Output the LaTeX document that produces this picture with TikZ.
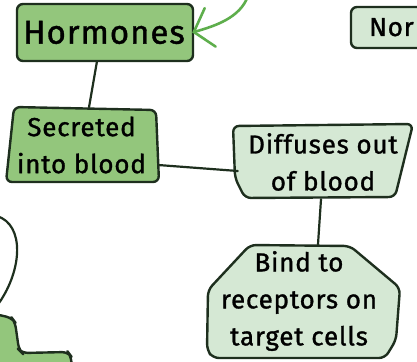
\documentclass[tikz,border=0pt]{standalone}
\usepackage{fontspec}
\setmainfont{Fira Sans}[LetterSpace=3, BoldFont=Fira Sans, BoldFeatures={FakeBold=1.2}]
\usetikzlibrary{arrows.meta}
\definecolor{midgreen}{HTML}{93C67C}
\definecolor{lightgreen}{HTML}{D5E8D4}
\definecolor{edge}{HTML}{1E2F1E}
\definecolor{arrowgreen}{HTML}{5EAE4C}
\tikzset{
  boxline/.style={draw=edge, line width=2.4pt, line join=round, rounded corners=6pt},
  midbox/.style={boxline, fill=midgreen},
  lightbox/.style={boxline, fill=lightgreen},
  label/.style={inner sep=0pt, align=center, text=black, font=\bfseries\fontsize{26}{37}\selectfont},
  conn/.style={draw=edge, line width=2.2pt, line cap=round},
  greenconn/.style={draw=arrowgreen, line width=2.6pt, line cap=round,
    -{Straight Barb[length=17pt,width=40pt,line cap=round]}},
}
\begin{document}
\begin{tikzpicture}[x=1pt,y=-1pt]
\useasboundingbox (0,0) rectangle (417,361);
\clip (0,0) rectangle (417,361);

% shapes
\draw[midbox] (17,4) rectangle (193,61);
\draw[midbox] (14,107) -- (156,110) -- (159,182) -- (6,182) -- cycle;
\draw[lightbox] (233,126) -- (413,124) -- (395,197) -- (245,198) -- (235,178) -- cycle;
\draw[lightbox] (250,245) -- (350,246) -- (400,288) -- (396,340) -- (385,358) -- (213,358) -- (207,350) -- (208,290) -- cycle;
\draw[lightbox] (351,7) rectangle (440,48);
\draw[midbox] (-5,314) -- (12,318) -- (15,322) -- (19,350) -- (22,353) -- (68,352) -- (71,356) -- (72,370) -- (-5,370) -- cycle;

% text nodes (sized like their boxes)
\node[label, minimum width=176pt, minimum height=57pt, font=\bfseries\fontsize{33}{40}\selectfont] (horm) at (104,32.5) {Hormones};
\node[label, minimum width=153pt, minimum height=75pt] (secr) at (81.5,145) {Secreted\\into blood};
\node[label, minimum width=180pt, minimum height=74pt] (diff) at (323,162) {Diffuses out\\of blood};
\node[label, minimum width=193pt, minimum height=113pt] (bind) at (299,301) {Bind to\\receptors on\\target cells};
\node[label, anchor=base west] (nor) at (369,36) {Nor};

% connectors
\coordinate (arrowsrc) at (248,-4);
\coordinate (loopa) at (-3,216);
\coordinate (loopb) at (-1,303);
\draw[greenconn] (arrowsrc) .. controls (240,18) and (215,26) .. (horm.east);
\draw[conn] ([xshift=-7pt]horm.south) -- ([xshift=7.5pt]secr.north);
\draw[conn] ([yshift=-20pt]secr.east) -- ([shift={(5pt,-9pt)}]diff.west);
\draw[conn] ([xshift=-2pt]diff.south) -- ([xshift=19pt]bind.north);
\draw[conn] (loopa) .. controls (25,225) and (22,270) .. (loopb);
\end{tikzpicture}
\end{document}
